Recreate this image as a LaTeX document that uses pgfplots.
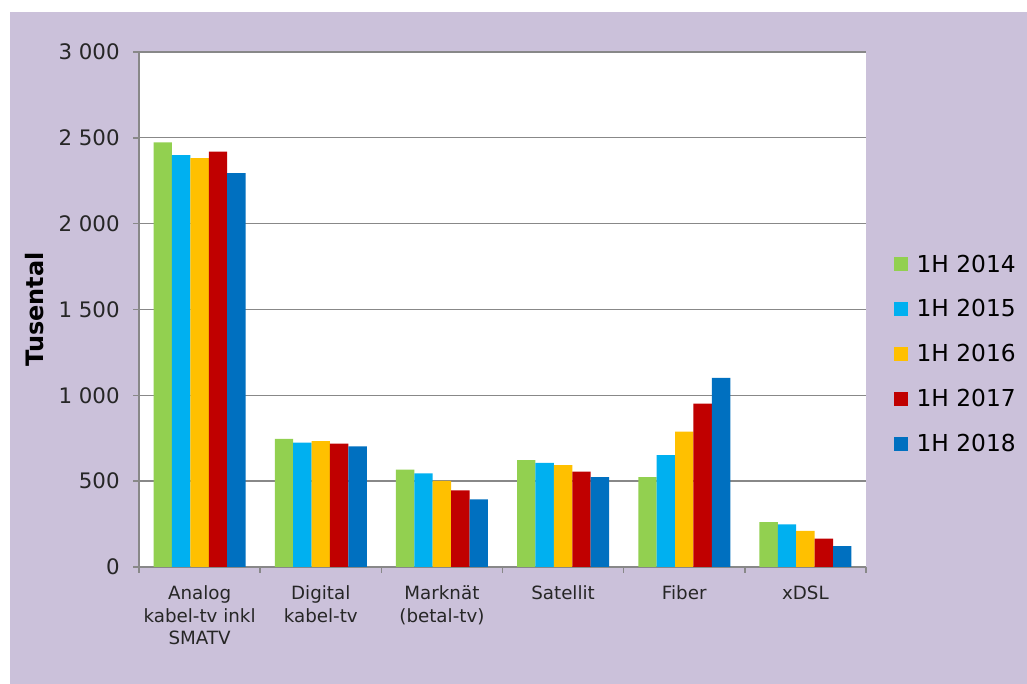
\documentclass[border=0pt]{standalone}
\usepackage{pgfplots}
\pgfplotsset{compat=1.18}
\usepackage{fontspec}
\setmainfont{DejaVu Sans}

\definecolor{lav}{HTML}{CBC1DA}
\definecolor{gridgray}{HTML}{888888}
\definecolor{c14}{HTML}{92D050}
\definecolor{c15}{HTML}{00B0F0}
\definecolor{c16}{HTML}{FFC000}
\definecolor{c17}{HTML}{C00000}
\definecolor{c18}{HTML}{0070C0}

\begin{document}
\begin{tikzpicture}[x=0.75pt,y=0.75pt]
  % page and chart area (1 unit = 1 px of the reference)
  \useasboundingbox (0,0) rectangle (1027,684);
  \fill[white] (0,0) rectangle (1027,684);
  \fill[lav] (10,0) rectangle (1027,672);
  \begin{axis}[
      at={(104.25pt,87.75pt)}, anchor=south west,
      scale only axis,
      width=545.25pt, height=386.25pt,
      axis background/.style={fill=white},
      ybar=0pt, bar width=13.8pt,
      xmin=-0.5, xmax=5.5,
      ymin=0, ymax=3000,
      axis lines=left,
      axis line style={-, gridgray, line width=1.2pt},
      ymajorgrids,
      grid style={gridgray, line width=1pt},
      tick align=outside,
      major tick length=4.5pt,
      minor tick length=4.5pt,
      tick style={gridgray, line width=1.1pt},
      xtick={0,...,5},
      every major x tick/.style={draw=none},
      minor xtick={-0.5,0.5,...,5.5},
      xticklabels={Analog\\kabel-tv inkl\\SMATV, Digital\\kabel-tv,
                   Marknät\\(betal-tv), Satellit, Fiber, xDSL},
      xticklabel style={align=center, font=\fontsize{13.7}{17}\selectfont,
                        text=black!85, yshift=-6pt},
      ytick={0,500,...,3000},
      yticklabels={0,500,1 000,1 500,2 000,2 500,3 000},
      yticklabel style={font=\fontsize{16}{19}\selectfont, text=black!85, xshift=-6.5pt},
      ylabel={\textbf{Tusental}},
      ylabel style={at={(axis description cs:-0.143,0.5)}, anchor=center,
                    font=\fontsize{18}{22}\selectfont},
      legend style={at={(1.038,0.612)}, anchor=north west, draw=none, fill=none,
                    font=\fontsize{17.5}{21}\selectfont,
                    row sep=15.2pt, inner sep=0pt,
                    /tikz/every odd column/.append style={column sep=4.5pt}},
      legend cell align=left,
      legend image code/.code={\fill[#1] (0pt,-5.25pt) rectangle (10.5pt,5.25pt);},
    ]
    \addplot[fill=c14, draw=none] coordinates {(0,2473) (1,747) (2,567) (3,623) (4,524) (5,261)};
    \addplot[fill=c15, draw=none] coordinates {(0,2399) (1,725) (2,545) (3,607) (4,652) (5,249)};
    \addplot[fill=c16, draw=none] coordinates {(0,2382) (1,733) (2,502) (3,594) (4,788) (5,210)};
    \addplot[fill=c17, draw=none] coordinates {(0,2420) (1,718) (2,447) (3,555) (4,952) (5,165)};
    \addplot[fill=c18, draw=none] coordinates {(0,2295) (1,702) (2,394) (3,524) (4,1101) (5,121)};
    \legend{1H 2014, 1H 2015, 1H 2016, 1H 2017, 1H 2018}
  \end{axis}
\end{tikzpicture}
\end{document}
